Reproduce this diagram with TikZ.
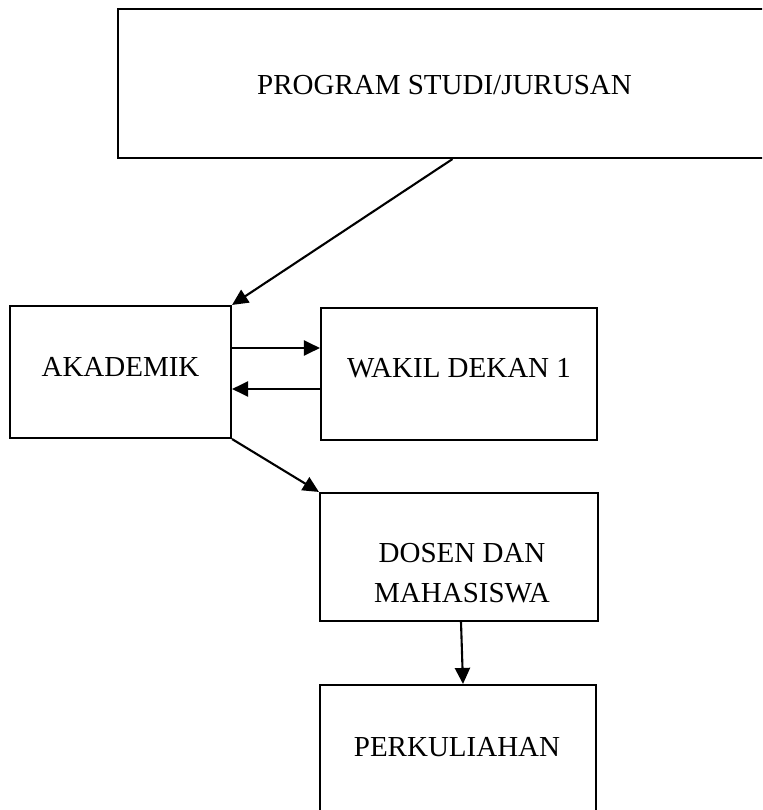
\documentclass[tikz,border=0pt]{standalone}
\usepackage{fontspec}
\setmainfont{Liberation Serif}
\usetikzlibrary{arrows.meta,positioning}

\begin{document}
\begin{tikzpicture}[
    x=1pt, y=-1pt,
    box/.style={draw, line width=2.1pt, inner sep=0pt},
    boxtext/.style={font=\fontsize{29}{40}\selectfont, align=center, inner sep=0pt},
    arrowstyle/.style={-{Triangle[length=16pt, width=15pt]}, line width=2.1pt}
]
\useasboundingbox (0,0) rectangle (762,810);
\clip (0,0) rectangle (762,810);

% Top: program studi / jurusan
\node[box, minimum width=653pt, minimum height=149pt] (prodi) at (444.5,83.5) {};
\node[boxtext] at (444.5,85) {PROGRAM STUDI/JURUSAN};

% Akademik and wakil dekan
\node[box, minimum width=221pt, minimum height=132pt] (akad) at (120.5,372) {};
\node[boxtext] at (120.5,366.5) {AKADEMIK};

\node[box, minimum width=276pt, minimum height=132pt] (wakil) at (459,374) {};
\node[boxtext] at (459,368) {WAKIL DEKAN 1};

% Dosen dan mahasiswa
\node[box, minimum width=278pt, minimum height=128pt] (dosen) at (459,557) {};
\node[boxtext] at (462,573) {DOSEN DAN\\MAHASISWA};

% Perkuliahan (runs off the bottom)
\node[box, minimum width=276pt, minimum height=144pt] (kuliah) at (458,757) {};
\node[boxtext] at (457,747) {PERKULIAHAN};

% Connectors
\coordinate (w1) at ([yshift=26pt]wakil.west);
\coordinate (w2) at ([yshift=-15pt]wakil.west);

\draw[arrowstyle] ([xshift=8pt]prodi.south) -- (akad.north east);
\draw[arrowstyle] (akad.east |- w1) -- (w1);
\draw[arrowstyle] (w2) -- (akad.east |- w2);
\draw[arrowstyle] (akad.south east) -- (dosen.north west);
\draw[arrowstyle] ([xshift=2pt]dosen.south) -- ([xshift=5pt]kuliah.north);

\end{tikzpicture}
\end{document}
